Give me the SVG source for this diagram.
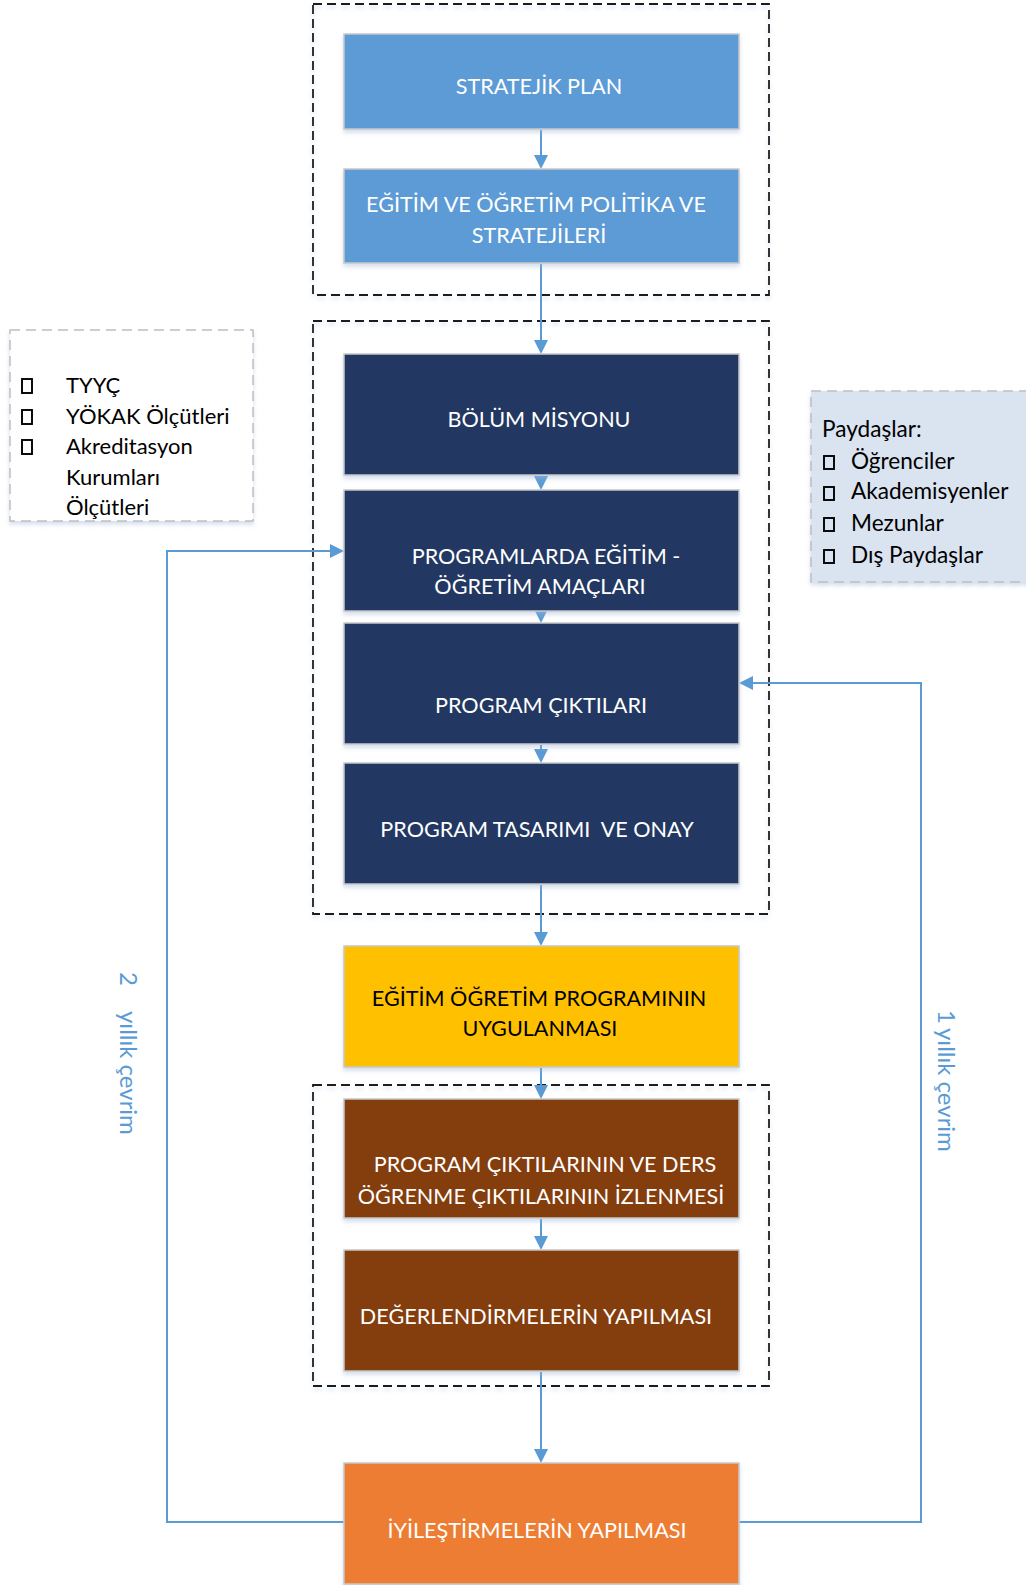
<svg xmlns="http://www.w3.org/2000/svg" width="1026" height="1585" viewBox="0 0 1026 1585">
<style>
  .box { stroke: #c8c8c8; stroke-width: 1.5; filter: url(#sh); }
  .lbl { font-family: Lato, "Open Sans", sans-serif; font-size: 21.6px; text-anchor: middle; }
  .w { fill: #ffffff; }
  .k { fill: #000000; }
  .side { font-family: Lato, "Open Sans", sans-serif; font-size: 22px; fill: #000000; }
  .side2 { font-family: Lato, "Open Sans", sans-serif; font-size: 22.6px; fill: #000000; }
  .dash { fill: none; stroke: #1a1a1a; stroke-width: 1.8; stroke-dasharray: 9 5; filter: url(#sh); }
  .gdash { stroke: #bfbfbf; stroke-width: 1.5; stroke-dasharray: 10 6; filter: url(#sh); }
  .chk { fill: none; stroke: #000000; stroke-width: 1.9; }
  .con { fill: none; stroke: #5b9bd5; stroke-width: 2; }
  .vt { font-family: Lato, "Open Sans", sans-serif; font-size: 24px; fill: #5b9bd5; }
</style>
<defs>
  <filter id="sh" x="-5%" y="-5%" width="110%" height="115%">
    <feDropShadow dx="0" dy="3" stdDeviation="2" flood-color="#9fb8d8" flood-opacity="0.45"/>
  </filter>
  <marker id="ah" markerUnits="userSpaceOnUse" markerWidth="14" markerHeight="14" viewBox="0 0 14 14" refX="8" refY="7" orient="auto">
    <path d="M0,0 L14,7 L0,14 z" fill="#5b9bd5"/>
  </marker>
</defs>
<rect width="1026" height="1585" fill="#ffffff"/>

<!-- dashed group frames -->
<g id="frames">
  <rect class="dash" x="313" y="4" width="456" height="291"/>
  <rect class="dash" x="313" y="321" width="456" height="593"/>
  <rect class="dash" x="313" y="1085" width="456" height="301"/>
</g>

<!-- side boxes -->
<g id="standards">
  <rect class="gdash" x="10" y="330" width="243" height="191" fill="#ffffff"/>
  <rect class="chk" x="22" y="379" width="10" height="14"/>
  <rect class="chk" x="22" y="410" width="10" height="14"/>
  <rect class="chk" x="22" y="440" width="10" height="14"/>
  <text class="side" x="66" y="393">TYYÇ</text>
  <text class="side" x="66" y="424">YÖKAK Ölçütleri</text>
  <text class="side" x="66" y="454">Akreditasyon</text>
  <text class="side" x="66" y="485">Kurumları</text>
  <text class="side" x="66" y="515">Ölçütleri</text>
</g>

<g id="stakeholders">
  <rect class="gdash" x="811" y="391" width="225" height="191" fill="#dae3f0"/>
  <text class="side2" x="822" y="437">Paydaşlar:</text>
  <rect class="chk" x="824" y="456" width="10" height="13"/>
  <rect class="chk" x="824" y="487" width="10" height="13"/>
  <rect class="chk" x="824" y="518" width="10" height="13"/>
  <rect class="chk" x="824" y="550" width="10" height="13"/>
  <text class="side2" x="851" y="469">Öğrenciler</text>
  <text class="side2" x="851" y="499">Akademisyenler</text>
  <text class="side2" x="851" y="531">Mezunlar</text>
  <text class="side2" x="851" y="563">Dış Paydaşlar</text>
</g>

<!-- connectors -->
<g id="connectors">
  <line class="con" x1="541" y1="130" x2="541" y2="163" marker-end="url(#ah)"/>
  <line class="con" x1="541" y1="264" x2="541" y2="348" marker-end="url(#ah)"/>
  <line class="con" x1="541" y1="476" x2="541" y2="484" marker-end="url(#ah)"/>
  <line class="con" x1="541" y1="612" x2="541" y2="617" marker-end="url(#ah)"/>
  <line class="con" x1="541" y1="745" x2="541" y2="757" marker-end="url(#ah)"/>
  <line class="con" x1="541" y1="885" x2="541" y2="940" marker-end="url(#ah)"/>
  <line class="con" x1="541" y1="1068" x2="541" y2="1093" marker-end="url(#ah)"/>
  <line class="con" x1="541" y1="1219" x2="541" y2="1244" marker-end="url(#ah)"/>
  <line class="con" x1="541" y1="1372" x2="541" y2="1457" marker-end="url(#ah)"/>
  <polyline class="con" points="344,1522 167,1522 167,551 338,551" marker-end="url(#ah)"/>
  <polyline class="con" points="739,1522 921,1522 921,683 745,683" marker-end="url(#ah)"/>
</g>

<!-- nodes -->
<g id="n-stratejik">
  <rect class="box" x="344" y="34" width="395" height="95" fill="#5b9bd5"/>
  <text class="lbl w" x="539" y="94">STRATEJİK PLAN</text>
</g>
<g id="n-politika">
  <rect class="box" x="344" y="169" width="395" height="94" fill="#5b9bd5"/>
  <text class="lbl w" x="536" y="212">EĞİTİM VE ÖĞRETİM POLİTİKA VE</text>
  <text class="lbl w" x="539" y="243">STRATEJİLERİ</text>
</g>
<g id="n-misyon">
  <rect class="box" x="344" y="354" width="395" height="121" fill="#203864"/>
  <text class="lbl w" x="539" y="427">BÖLÜM MİSYONU</text>
</g>
<g id="n-amaclar">
  <rect class="box" x="344" y="490" width="395" height="121" fill="#203864"/>
  <text class="lbl w" x="546" y="564">PROGRAMLARDA EĞİTİM -</text>
  <text class="lbl w" x="540" y="594">ÖĞRETİM AMAÇLARI</text>
</g>
<g id="n-ciktilar">
  <rect class="box" x="344" y="623" width="395" height="121" fill="#203864"/>
  <text class="lbl w" x="541" y="713">PROGRAM ÇIKTILARI</text>
</g>
<g id="n-tasarim">
  <rect class="box" x="344" y="763" width="395" height="121" fill="#203864"/>
  <text class="lbl w" x="537" y="837" xml:space="preserve">PROGRAM TASARIMI  VE ONAY</text>
</g>
<g id="n-uygulama">
  <rect class="box" x="344" y="946" width="395" height="121" fill="#ffc000"/>
  <text class="lbl k" x="539" y="1006">EĞİTİM ÖĞRETİM PROGRAMININ</text>
  <text class="lbl k" x="540" y="1036">UYGULANMASI</text>
</g>
<g id="n-izleme">
  <rect class="box" x="344" y="1099" width="395" height="119" fill="#843c0c"/>
  <text class="lbl w" x="545" y="1172">PROGRAM ÇIKTILARININ VE DERS</text>
  <text class="lbl w" x="541" y="1204">ÖĞRENME ÇIKTILARININ İZLENMESİ</text>
</g>
<g id="n-degerlendirme">
  <rect class="box" x="344" y="1250" width="395" height="121" fill="#843c0c"/>
  <text class="lbl w" x="536" y="1324">DEĞERLENDİRMELERİN YAPILMASI</text>
</g>
<g id="n-iyilestirme">
  <rect class="box" x="344" y="1463" width="395" height="121" fill="#ed7d31"/>
  <text class="lbl w" x="537" y="1538">İYİLEŞTİRMELERİN YAPILMASI</text>
</g>

<!-- cycle labels -->
<g id="cycle-labels">
  <text class="vt" transform="translate(120,972) rotate(90)"><tspan x="0">2</tspan><tspan x="39">yıllık çevrim</tspan></text>
  <text class="vt" transform="translate(938,1010) rotate(90)"><tspan x="0">1</tspan><tspan x="18">yıllık çevrim</tspan></text>
</g>
</svg>
